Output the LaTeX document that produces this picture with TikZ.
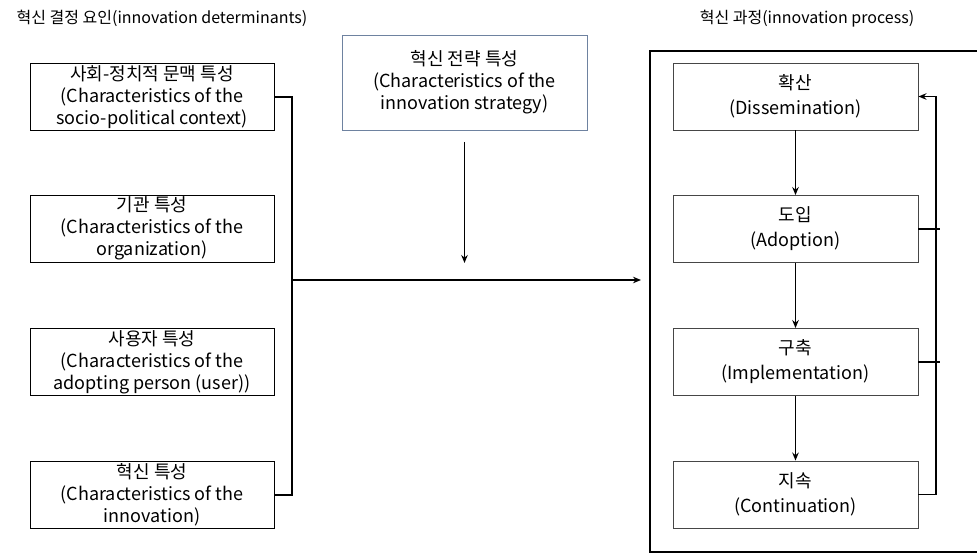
\documentclass[tikz,border=0pt]{standalone}
\usepackage{fontspec}
\setmainfont{Noto Sans CJK KR}
\usetikzlibrary{arrows.meta}
\definecolor{stratcol}{RGB}{110,130,160}
\definecolor{boxgray}{RGB}{70,70,70}
\tikzset{
  detbox/.style={draw=black, line width=0.9pt, minimum width=244pt, minimum height=67pt, inner sep=0pt, align=center, font=\fontsize{18}{22}\selectfont},
  procstep/.style={draw=boxgray, line width=0.9pt, minimum width=245pt, minimum height=67pt, inner sep=0pt, align=center, font=\fontsize{18}{25}\selectfont},
  stratbox/.style={draw=stratcol, line width=0.9pt, minimum width=245pt, minimum height=95pt, inner sep=0pt, align=center, font=\fontsize{18}{22}\selectfont},
  title/.style={inner sep=0pt, font=\fontsize{16}{18}\selectfont},
  thick line/.style={line width=2pt},
  arr/.style={line width=1.8pt, -{Stealth[length=8pt,width=6.5pt]}}
}
\begin{document}
\begin{tikzpicture}[x=1pt,y=-1pt]
\useasboundingbox (0,0) rectangle (977,553);
% titles
\node[title] (t1) at (162,18) {혁신 결정 요인(innovation determinants)};
\node[title] (t2) at (807,19) {혁신 과정(innovation process)};
% determinants
\node[detbox] (b1) at (152,97) {사회-정치적 문맥 특성\\(Characteristics of the\\socio-political context)};
\node[detbox] (b2) at (152,228.5) {기관 특성\\(Characteristics of the\\organization)};
\node[detbox] (b3) at (152,362) {사용자 특성\\(Characteristics of the\\adopting person (user))};
\node[detbox] (b4) at (152,494.5) {혁신 특성\\(Characteristics of the\\innovation)};
% strategy
\node[stratbox] (s) at (464.5,82.5) {혁신 전략 특성\\(Characteristics of the\\innovation strategy)};
% process
\node[procstep] (p1) at (795.5,96.5) {확산\\(Dissemination)};
\node[procstep] (p2) at (795.5,229) {도입\\(Adoption)};
\node[procstep] (p3) at (795.5,362) {구축\\(Implementation)};
\node[procstep] (p4) at (795.5,494.5) {지속\\(Continuation)};
% big process frame (right side beyond page)
\coordinate (fTR) at (980,51);
\coordinate (fTL) at (650,51);
\coordinate (fBL) at (650,552);
\coordinate (fBR) at (980,552);
\draw[line width=2pt] (fTR) -- (fTL) -- (fBL) -- (fBR);
% bracket
\coordinate (bx) at (292,280);
\draw[thick line] (b1.east) -| (bx) |- (b4.east);
\coordinate (ae) at (641,280);
\draw[arr] (bx) -- (ae);
% strategy arrow
\coordinate (sa) at (464.5,142);
\coordinate (sb) at (464.5,263);
\draw[arr] (sa) -- (sb);
% process arrows
\draw[arr] (p1) -- (p2);
\draw[arr] (p2) -- (p3);
\draw[arr] (p3) -- (p4);
% feedback
\coordinate (fb) at (936,494.5);
\draw[arr] (p4.east) -- (fb) |- (p1.east);
\coordinate (f2) at (940,229);
\coordinate (f3) at (940,362);
\draw[line width=1.8pt] (p2.east) -- (f2);
\draw[line width=1.8pt] (p3.east) -- (f3);
\end{tikzpicture}
\end{document}
